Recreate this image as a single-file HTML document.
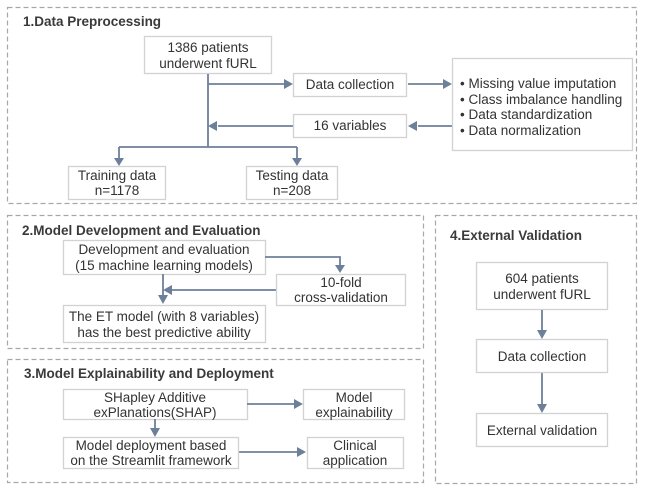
<!DOCTYPE html>
<html><head><meta charset="utf-8"><style>
html,body{margin:0;padding:0;background:#fff;}
svg{display:block;}
text{font-family:"Liberation Sans",sans-serif;font-size:13.5px;fill:#333;}
.t{font-family:"Liberation Sans",sans-serif;font-weight:bold;font-size:13.5px;fill:#3a3a3a;}
.p{fill:none;stroke:#a8a8a8;stroke-width:1.2;stroke-dasharray:5,3;}
.b{fill:#fff;stroke:#d2d2d2;stroke-width:1.3;}
.l{fill:none;stroke:#6d8099;stroke-width:1.8;}
.a{fill:#6d8099;}
</style></head><body>
<svg width="645" height="491" viewBox="0 0 645 491" xmlns="http://www.w3.org/2000/svg">
<!-- panels -->
<rect class="p" x="7.5" y="7.5" width="629" height="196"/>
<rect class="p" x="7.5" y="215.5" width="416" height="133"/>
<rect class="p" x="7.5" y="359.5" width="416" height="123"/>
<rect class="p" x="435.5" y="215.5" width="201" height="268"/>
<text class="t" x="23" y="26">1.Data Preprocessing</text>
<text class="t" x="22" y="235">2.Model Development and Evaluation</text>
<text class="t" x="24" y="378">3.Model Explainability and Deployment</text>
<text class="t" x="450" y="240">4.External Validation</text>

<!-- Panel 1 -->
<rect class="b" x="144.5" y="36.5" width="127" height="37"/>
<text x="208" y="52" text-anchor="middle">1386 patients</text>
<text x="208" y="68" text-anchor="middle">underwent fURL</text>
<path class="l" d="M208 74V147M119 147H297M119 147V159M297 147V159M208 84H284M408 84H444M452 126H418M293 126H218"/>
<polygon class="a" points="114,158 124,158 119,166"/>
<polygon class="a" points="292,158 302,158 297,166"/>
<polygon class="a" points="284,79 293,84 284,89"/>
<polygon class="a" points="443,79 452,84 443,89"/>
<polygon class="a" points="417,121 408,126 417,131"/>
<polygon class="a" points="217,121 208,126 217,131"/>
<rect class="b" x="293.5" y="73.5" width="113" height="23"/>
<text x="350" y="89" text-anchor="middle">Data collection</text>
<rect class="b" x="293.5" y="114.5" width="113" height="23"/>
<text x="350" y="130" text-anchor="middle">16 variables</text>
<rect class="b" x="452.5" y="58.5" width="180" height="92"/>
<text x="460" y="88">• Missing value imputation</text>
<text x="460" y="104">• Class imbalance handling</text>
<text x="460" y="119">• Data standardization</text>
<text x="460" y="135">• Data normalization</text>
<rect class="b" x="68.5" y="166.5" width="97" height="33"/>
<text x="117" y="180" text-anchor="middle">Training data</text>
<text x="117" y="195" text-anchor="middle">n=1178</text>
<rect class="b" x="246.5" y="166.5" width="91" height="33"/>
<text x="292" y="180" text-anchor="middle">Testing data</text>
<text x="292" y="195" text-anchor="middle">n=208</text>

<!-- Panel 2 -->
<rect class="b" x="63.5" y="240.5" width="202" height="34"/>
<text x="164" y="254" text-anchor="middle">Development and evaluation</text>
<text x="164" y="270" text-anchor="middle">(15 machine learning models)</text>
<path class="l" d="M265 257H340V266M276 290H172M163 274V296"/>
<polygon class="a" points="335,265 345,265 340,273"/>
<polygon class="a" points="172,285 163,290 172,295"/>
<polygon class="a" points="158,295 168,295 163,304"/>
<rect class="b" x="276.5" y="274.5" width="129" height="31"/>
<text x="341" y="287" text-anchor="middle">10-fold</text>
<text x="341" y="302" text-anchor="middle">cross-validation</text>
<rect class="b" x="63.5" y="305.5" width="202" height="37"/>
<text x="164" y="321" text-anchor="middle">The ET model (with 8 variables)</text>
<text x="164" y="337" text-anchor="middle">has the best predictive ability</text>

<!-- Panel 3 -->
<rect class="b" x="63.5" y="389.5" width="184" height="30"/>
<text x="155" y="402" text-anchor="middle">SHapley Additive</text>
<text x="155" y="417" text-anchor="middle">exPlanations(SHAP)</text>
<path class="l" d="M247 404H295M155 419V429M238 452H297"/>
<polygon class="a" points="294,399 303,404 294,409"/>
<polygon class="a" points="150,428 160,428 155,437"/>
<polygon class="a" points="297,447 306,452 297,457"/>
<rect class="b" x="303.5" y="389.5" width="101" height="30"/>
<text x="354" y="402" text-anchor="middle">Model</text>
<text x="354" y="417" text-anchor="middle">explainability</text>
<rect class="b" x="63.5" y="437.5" width="175" height="31"/>
<text x="151" y="450" text-anchor="middle">Model deployment based</text>
<text x="151" y="465" text-anchor="middle">on the Streamlit framework</text>
<rect class="b" x="307.5" y="437.5" width="96" height="31"/>
<text x="355" y="450" text-anchor="middle">Clinical</text>
<text x="355" y="465" text-anchor="middle">application</text>

<!-- Panel 4 -->
<rect class="b" x="476.5" y="262.5" width="131" height="47"/>
<text x="542" y="283" text-anchor="middle">604 patients</text>
<text x="542" y="299" text-anchor="middle">underwent fURL</text>
<path class="l" d="M542 310V331M542 372V405"/>
<polygon class="a" points="537,330 547,330 542,339"/>
<polygon class="a" points="537,404 547,404 542,413"/>
<rect class="b" x="476.5" y="339.5" width="131" height="33"/>
<text x="542" y="361" text-anchor="middle">Data collection</text>
<rect class="b" x="476.5" y="413.5" width="131" height="33"/>
<text x="542" y="435" text-anchor="middle">External validation</text>
</svg>
</body></html>
